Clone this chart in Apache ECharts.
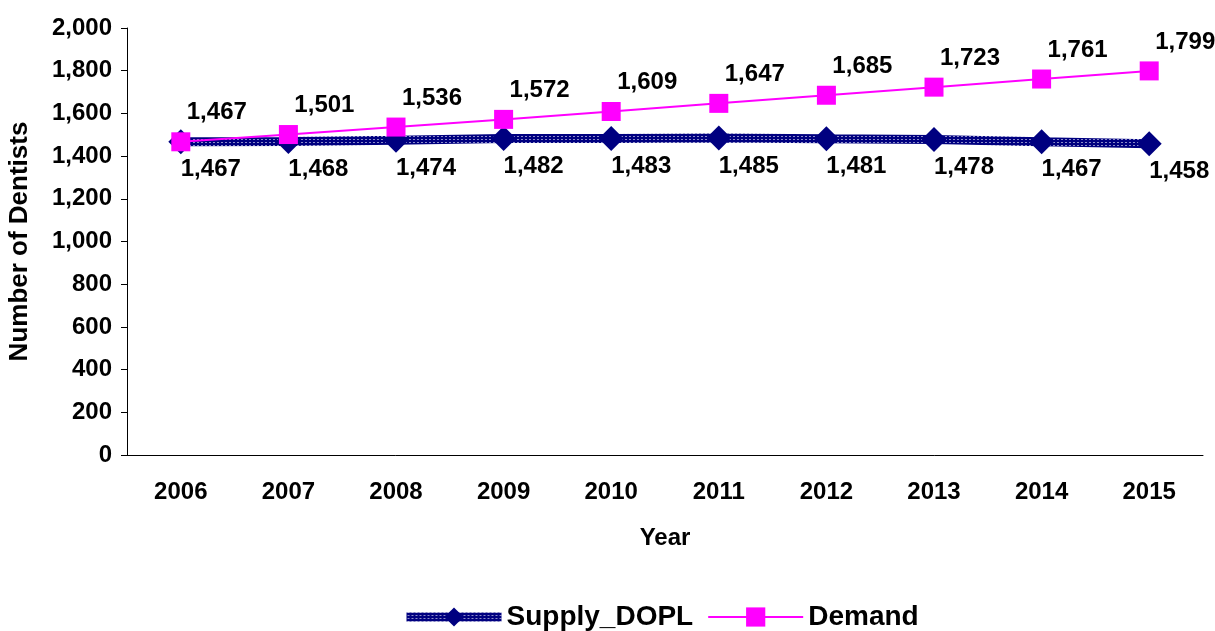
<!DOCTYPE html>
<html>
<head>
<meta charset="utf-8">
<title>Dentists supply and demand</title>
<style>
    html, body {margin:0;padding:0;background:#fff;}
    #chart {width:1215px;height:631px;}
</style>
</head>
<body>
<div id="chart"></div>
<script src="https://cdn.jsdelivr.net/npm/echarts@6/dist/echarts.min.js"></script>
<script>
var years = ['2006', '2007', '2008', '2009', '2010', '2011', '2012', '2013', '2014', '2015'];
var supply = [1467, 1468, 1474, 1482, 1483, 1485, 1481, 1478, 1467, 1458];
var demand = [1467, 1501, 1536, 1572, 1609, 1647, 1685, 1723, 1761, 1799];

var fontName = 'Liberation Sans, Arial, sans-serif';

// hatched fill for the supply line (navy with light dots)
function hatch() {
    var c = document.createElement('canvas');
    c.width = 4; c.height = 3;
    var g = c.getContext('2d');
    g.fillStyle = '#000080';
    g.fillRect(0, 0, 4, 3);
    g.fillStyle = '#8c8cc8';
    g.fillRect(1, 1, 2, 1);
    return c;
}
var hatchColor = {image: hatch(), repeat: 'repeat'};

function fmt(v) {
    return v.toString().replace(/\B(?=(\d{3})+(?!\d))/g, ',');
}

var chart = echarts.init(document.getElementById('chart'));
chart.setOption({
    animation: false,
    textStyle: {fontFamily: fontName},
    grid: {left: 127, right: 12, top: 28, bottom: 176, containLabel: false, outerBoundsMode: 'none'},
    legend: {
        top: 598,
        left: 397,
        itemWidth: 95,
        itemHeight: 24,
        itemGap: 14,
        textStyle: {fontSize: 28, fontWeight: 'bold', color: '#000', fontFamily: fontName},
        data: [
            {name: 'Supply_DOPL', lineStyle: {color: hatchColor, width: 9}},
            {name: 'Demand'}
        ]
    },
    xAxis: {
        type: 'category',
        data: years,
        boundaryGap: true,
        name: 'Year',
        nameLocation: 'middle',
        nameGap: 71,
        nameTextStyle: {fontSize: 24, fontWeight: 'bold', color: '#000'},
        axisLine: {lineStyle: {color: '#000', width: 1}},
        axisTick: {length: 7, lineStyle: {color: '#000'}},
        axisLabel: {fontSize: 24, fontWeight: 'bold', color: '#000', margin: 25}
    },
    yAxis: {
        type: 'value',
        min: 0,
        max: 2000,
        interval: 200,
        name: 'Number of Dentists',
        nameLocation: 'middle',
        nameGap: 94,
        nameTextStyle: {fontSize: 26, fontWeight: 'bold', color: '#000'},
        axisLine: {show: true, lineStyle: {color: '#000', width: 1}},
        axisTick: {show: true, length: 6, lineStyle: {color: '#000'}},
        splitLine: {show: false},
        axisLabel: {
            fontSize: 24, fontWeight: 'bold', color: '#000', margin: 15,
            formatter: function (v) { return fmt(v); }
        }
    },
    series: [
        {
            name: 'Supply_DOPL',
            type: 'line',
            data: supply,
            symbol: 'diamond',
            symbolSize: 25,
            itemStyle: {color: '#000080'},
            lineStyle: {color: hatchColor, width: 9},
            label: {
                show: true,
                position: 'inside',
                offset: [30, 28],
                fontSize: 24,
                fontWeight: 'bold',
                color: '#000',
                formatter: function (p) { return fmt(p.value); }
            },
            z: 2
        },
        {
            name: 'Demand',
            type: 'line',
            data: demand,
            symbol: 'rect',
            symbolSize: 19,
            itemStyle: {color: '#ff00ff'},
            lineStyle: {color: '#ff00ff', width: 2},
            label: {
                show: true,
                position: 'inside',
                offset: [36, -29],
                fontSize: 24,
                fontWeight: 'bold',
                color: '#000',
                formatter: function (p) { return fmt(p.value); }
            },
            z: 3
        }
    ]
});
</script>
</body>
</html>
